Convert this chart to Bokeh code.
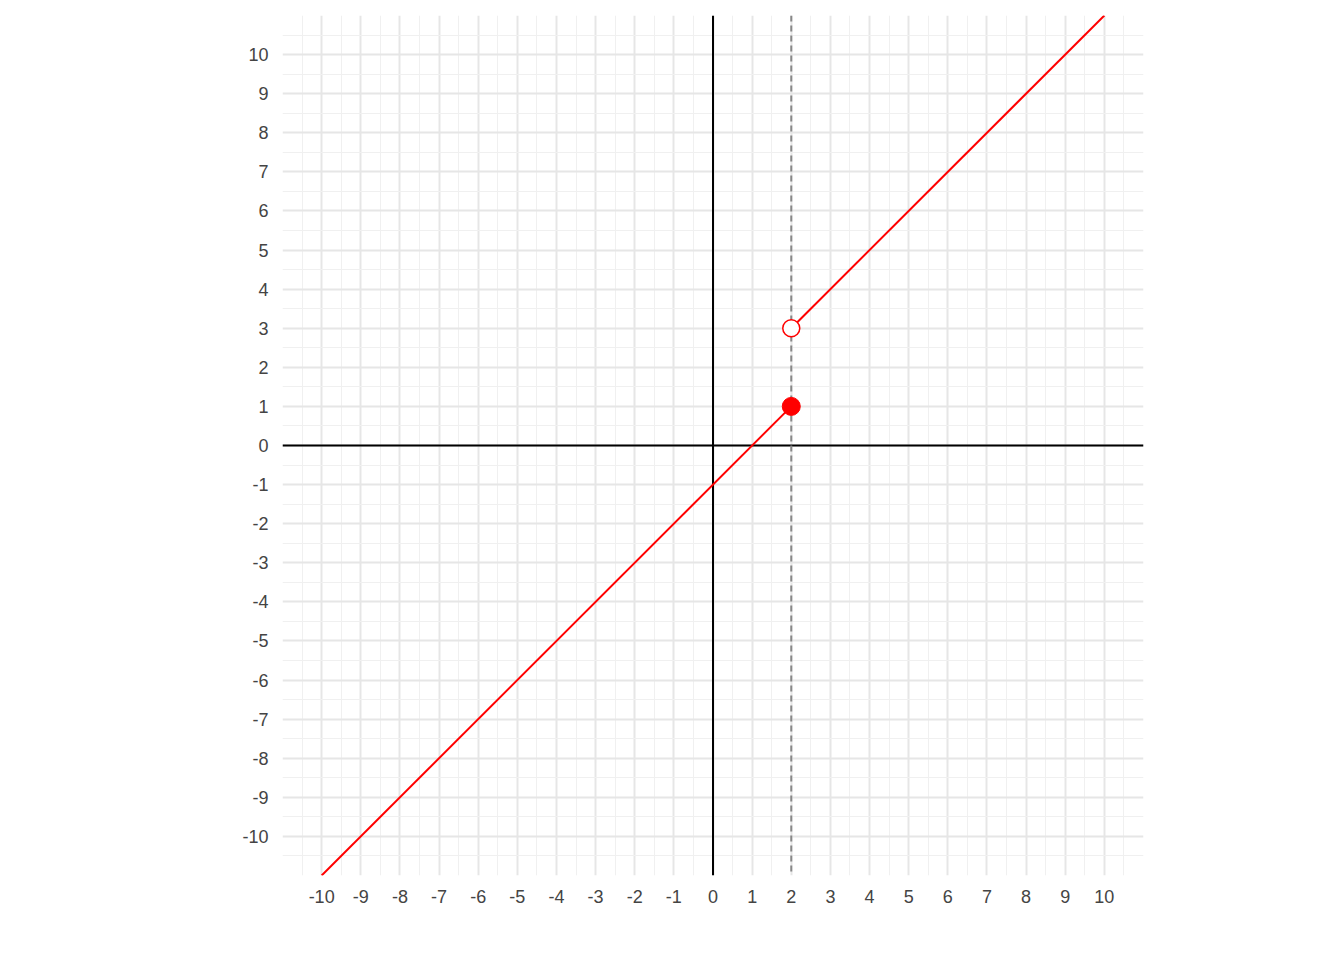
from bokeh.plotting import figure
from bokeh.models import Span, FixedTicker
from bokeh.embed import file_html
from bokeh.resources import INLINE

# piecewise function: y = x - 1 for x <= 2, y = x + 1 for x > 2
left_x = [-10, 2]
left_y = [-11, 1]
right_x = [2, 10]
right_y = [3, 11]
closed_pt = ([2], [1])
open_pt = ([2], [3])
ticks = list(range(-10, 11))
minor = [t + 0.5 for t in range(-11, 11)]
tick_labels = {t: str(t) for t in ticks}

p = figure(frame_width=861, frame_height=860, width=1328, height=930,
           min_border_left=282, min_border_top=15,
           x_range=(-11, 11), y_range=(-11, 11),
           output_backend="svg", toolbar_location=None)
p.outline_line_color = None
p.background_fill_color = "white"

for ax in (p.xaxis, p.yaxis):
    ax.ticker = FixedTicker(ticks=ticks, minor_ticks=minor)
    ax.major_label_overrides = tick_labels
    ax.axis_line_color = None
    ax.major_tick_line_color = None
    ax.minor_tick_line_color = None
    ax.major_label_text_font = "Liberation Sans"
    ax.major_label_text_font_size = "18px"
    ax.major_label_text_color = "#444444"
    ax.major_label_standoff = 8

for g in (p.xgrid, p.ygrid):
    g.grid_line_color = "#e6e6e6"
    g.grid_line_width = 2
    g.minor_grid_line_color = "#f0f0f0"
    g.minor_grid_line_width = 1

p.add_layout(Span(location=0, dimension="width", line_color="black", line_width=2, level="underlay"))
p.add_layout(Span(location=0, dimension="height", line_color="black", line_width=2, level="underlay"))
p.add_layout(Span(location=2, dimension="height", line_color="#888888",
                  line_width=2, line_dash="6 4", level="underlay"))

p.line(left_x, left_y, line_color="red", line_width=2)
p.line(right_x, right_y, line_color="red", line_width=2)
p.scatter(*closed_pt, size=18, fill_color="red", line_color="red")
p.scatter(*open_pt, size=17, fill_color="white", line_color="red", line_width=1.5)

open("out.html", "w").write(file_html(p, INLINE))
